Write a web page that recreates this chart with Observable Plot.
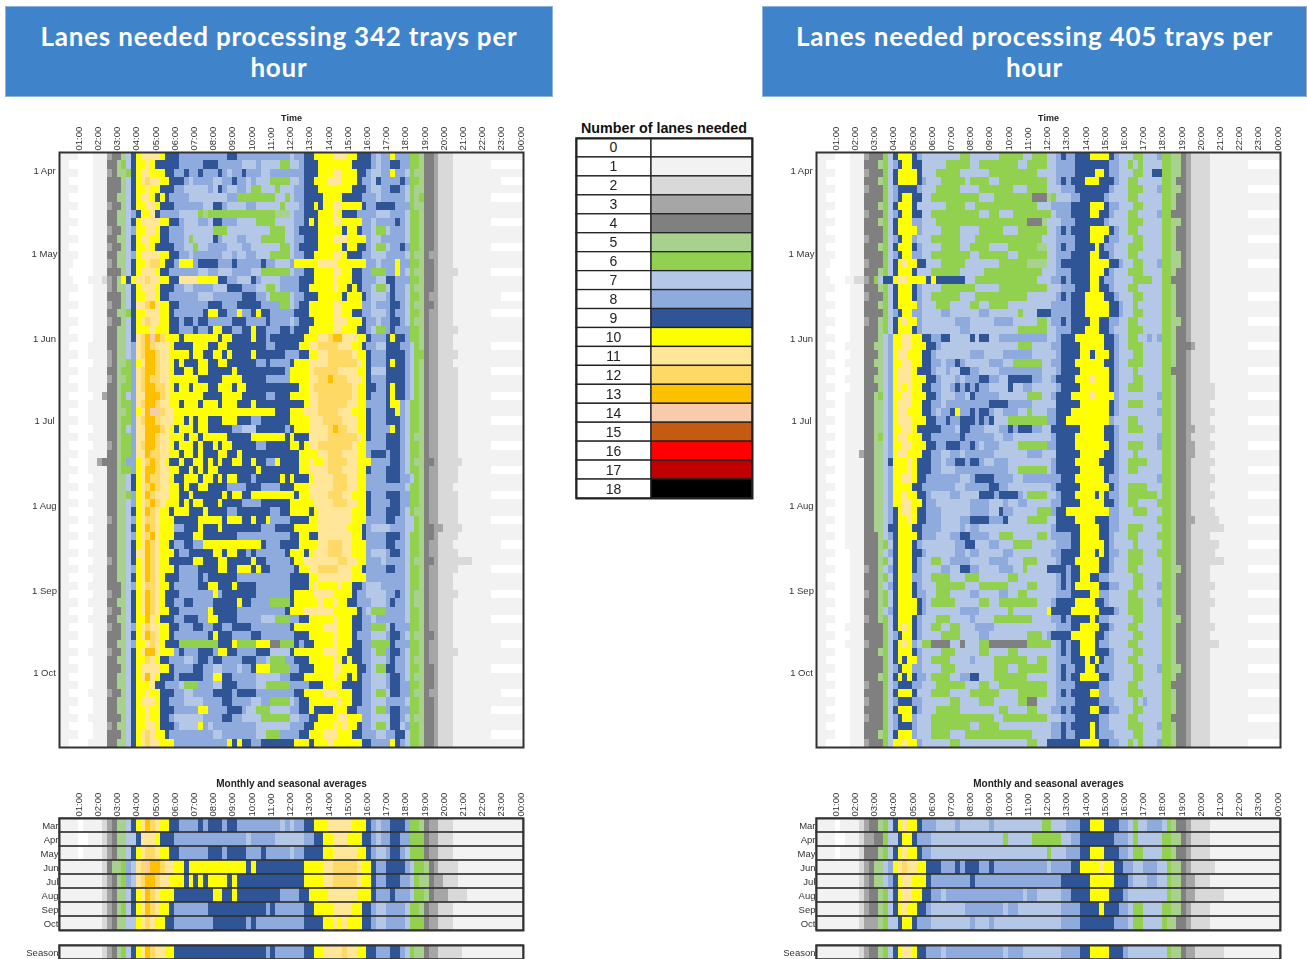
<!DOCTYPE html>
<html><head><meta charset="utf-8">
<script src="https://cdn.jsdelivr.net/npm/d3@7"></script>
<script src="https://cdn.jsdelivr.net/npm/@observablehq/plot@0.6"></script>
<style>
html,body{margin:0;padding:0;width:1307px;height:959px;overflow:hidden;background:#fff}
.pos{position:absolute}
.title{background:#3f83cb;border:1px solid #8fb4dc;box-sizing:border-box;color:#fff;font:bold 26px/31px Lato,sans-serif;letter-spacing:.8px;text-align:center;padding:14px 28px 0;height:91px;top:6px}
.legt{font:bold 14.3px "Liberation Sans",Arial,sans-serif;color:#111;text-align:center}
svg{display:block;overflow:visible;filter:blur(.35px)}
</style></head><body>
<div id="root"></div>
<script>
const lanes=d3.range(19);
const palette=["#ffffff","#f2f2f2","#d9d9d9","#a6a6a6","#808080","#a9d18e","#92d050","#b4c7e7","#8faadc","#2f5597","#ffff00","#ffe699","#ffd966","#ffc000","#f8cbad","#c55a11","#ff0000","#c00000","#000000"];
const months=["Mar","Apr","May","Jun","Jul","Aug","Sep","Oct"];
const monthsL=[
"1111 0111 1234 5579 abdc baa9 9888 8989 9989 9888 8888 8878 7889 9aaa bbbb baaa 9878 8999 8665 4332 2211 1111 1111 1111",
"1111 0011 1234 5577 9bbb a999 8888 8888 8888 8887 8888 8777 7778 899a abbb aaa9 9878 8998 8666 4332 2211 1111 1111 1111",
"1111 0111 1234 5579 abcc baa9 9888 8889 9989 9998 8898 8888 7889 999a abbb bbaa 9877 8998 7666 4332 2211 1111 1111 1111",
"1111 1111 1245 5687 bced dcbb aa9a aaaa aaaa aaa9 a999 9999 999a aaab bccc ccba a988 9999 8766 5432 2221 1111 1111 1111",
"1111 1111 1234 5687 bcdd cbba aa9a 9a9a aaa9 a999 9999 9999 999a aaab bccc ccba a988 9998 8765 5433 2221 1111 1111 1111",
"1111 1111 1234 5579 abdc baaa 9999 9999 aa99 a999 9999 9988 8899 aaaa bbbb bbaa a988 8988 8766 5433 3222 2111 1111 1111",
"1111 1111 1234 5679 abdc baa9 8888 8889 9999 9999 9998 9888 8889 9aaa abbb baa9 9877 8888 7665 4332 2211 1111 1111 1111",
"1111 1111 1234 5577 abcb aa99 8888 8888 9999 9998 9888 8888 8889 999a abab aaa9 9877 8888 7666 4332 2211 1111 1111 1111"];
const seasonL="1111 1111 1234 5679 abdc bbaa 9999 9999 9999 9999 9998 9888 8889 9aab bbbc bbaa 9988 8998 7655 4332 2222 1111 1111 1111";
const monthsR=[
"1111 0111 1234 4567 9aba a988 8777 7877 7777 8777 7777 7776 6777 8889 9aaa 9998 8767 7888 7654 4322 2211 1111 1111 1111",
"1111 0011 1233 4467 79aa 9888 7777 7777 7777 7776 7777 7666 6667 7889 9999 9988 8767 7777 6655 4322 2211 1111 1111 1111",
"1111 0111 1244 4567 9aba a988 7777 7777 7777 7777 7777 7777 6777 8889 9aaa 9998 8766 7777 6654 4322 2211 1111 1111 1111",
"1111 1111 1234 5578 abcb baa9 9988 8989 9988 9888 8888 8888 7888 899a aaab aa99 8877 8887 7655 4322 2221 1111 1111 1111",
"1111 1111 1234 5578 9abb aaa9 8888 8888 9888 8888 8888 8888 8889 9999 9aaa aa99 9877 7887 7655 4332 2211 1111 1111 1111",
"1111 1111 1234 4567 9abb aa99 8878 8888 8888 8888 8887 8877 7778 8999 9aaa a999 8777 7777 7655 4332 2222 2111 1111 1111",
"1111 1111 1234 4567 9aba a998 7777 7778 8888 8887 8877 7777 7778 8889 999a 9998 8766 7777 6655 4322 2211 1111 1111 1111",
"1111 1111 1233 3567 79aa 9888 7777 7777 8777 8777 7777 7777 7778 8889 9999 9988 8766 7777 6554 4322 2211 1111 1111 1111"];
const seasonR="1111 1111 1234 4567 9abb a998 8878 8888 8888 8887 8887 7777 7778 8889 9aaa a999 8777 7777 7655 4332 2222 2111 1111 1111";
const dailyL=[
"1111 0001 1134 4579 abbb ba99 9888 8888 8889 9888 8888 8888 7889 9aaa abbb aa99 9878 8a88 8665 4432 2211 1111 1111 1111",
"1100 0001 1144 5679 aaba 9999 9888 8899 9888 8877 7877 7766 7789 99aa aaaa a999 9878 8998 8665 4432 2211 1111 1100 0000",
"1111 0001 1134 5569 abba aa99 8898 8988 8987 8898 8877 8888 8889 99aa abba aa99 8778 8a88 7655 4432 2211 1111 1111 1111",
"1100 0001 1144 4579 abcb baa9 9987 8888 7788 9887 8777 6666 7789 9aaa bbba aa98 8798 8889 8665 4432 2211 1111 1111 0000",
"1111 0001 1144 4579 aaba a999 8877 7778 7987 7887 6677 7677 7889 99aa aaaa a999 8778 8998 7655 4432 2211 1111 1111 1111",
"1100 0001 1144 5579 abba 9a98 8887 7777 7778 8666 6666 6776 7889 999a aaa9 9998 8878 8888 7656 4432 2211 1111 1100 0000",
"1111 0001 1134 4579 aabb a999 8888 8877 9987 7778 8777 7767 7789 9a9a abba aaa9 8899 9988 8655 4432 2211 1111 1111 1111",
"1100 0001 1144 5578 9aab 9888 8777 7656 6666 6666 6666 6555 7889 99aa aba9 9988 8877 7888 7665 4432 2211 1111 1111 1111",
"1111 0001 1144 5579 abbb baa9 9877 7887 9988 8777 7666 6777 7889 a9aa abba aaa8 8788 8898 7665 4432 2211 1111 1100 0000",
"1100 0001 1134 4578 aabb a998 8877 7777 6667 7777 7777 6667 7899 99aa aaa9 aa98 8766 7888 7665 4432 2211 1111 1111 1111",
"1111 0001 1144 5579 abba a998 8876 7777 9877 7887 7766 6667 7889 99aa abbb aaaa 8778 8888 7665 4432 2211 1111 1111 1111",
"1100 0001 1134 4579 aaba 9999 8877 6778 8887 7788 7777 7766 7899 99aa aaa9 aa99 8766 7889 8665 4432 2211 1111 1100 0000",
"1111 0001 1144 5578 abbb baa9 9887 8888 8877 8778 8777 6666 7889 9aaa abba 9998 8777 8888 7655 4332 2211 1111 1111 1111",
"1110 0001 1134 5579 aabc ca99 8aaa 8999 9888 9888 8898 8777 8aaa aabb bbaa aaaa 8878 88a8 8665 4432 2211 1111 1111 1111",
"1100 0001 1144 4579 abbb a998 8888 8778 8777 8888 7766 6666 7889 9aaa abba a998 8666 88a8 7655 4432 2221 1111 1100 0000",
"1110 0011 1234 5a9a bbcb baa9 9bbb baaa a998 8777 9877 7788 8899 9aaa abaa a998 8877 9988 8665 4432 2211 1111 1111 1111",
"1111 0001 1134 5579 abbb a999 8877 8888 7779 9988 8776 6788 8899 aaaa abaa 9a98 8766 7988 7655 4432 2211 1111 1111 1111",
"1100 0001 1144 4579 aabb a998 8888 8777 8888 8899 9887 6666 7889 99aa aaa9 aaa9 8777 8988 7665 4332 2211 1111 1111 0000",
"1111 0001 1134 4579 bbcd baa9 9888 8889 9988 8999 9988 8866 7899 aaaa abba aaa8 8788 8998 7655 4432 2211 1111 1111 1111",
"1100 0001 1144 5569 aabb baa9 8888 889a a998 8a88 9a99 8888 8999 aaaa abba a998 8777 8988 7665 4332 2211 1111 1100 0000",
"1111 0001 1134 4579 abcb baa9 9899 8998 8888 9998 8889 8888 7899 9aaa abbb aaa9 8878 8998 7655 4332 2211 1111 1111 1111",
"1100 0001 1144 5579 aaab aaa9 9888 9889 aa99 8899 a998 8899 8999 aaaa abba aa99 8766 8988 8665 4332 2221 1111 1111 1111",
"1111 0001 1144 5579 bcde dcaa a9aa aaaa a9aa 9999 a998 9999 999a aabb cddb bbaa 9888 9a99 8665 4332 2211 1111 1111 1111",
"1100 0011 1144 5578 bcdc bbba 9999 aaa9 9aa9 9999 9998 8999 99aa bbcc ccbb baa9 8877 9998 8765 4332 2211 1111 1100 0000",
"1111 0011 1134 5578 bcdd cbba aaa9 aa99 aa9a 9999 a999 9998 8899 aabb cccc cbaa 9888 9999 8766 4332 2221 1111 1111 1111",
"1100 0001 1134 5568 abdd cbba 9a99 9aa9 9aa9 9999 9889 8888 9aaa bbbb cccc ccba 9888 9a99 8765 4332 2211 1111 1111 1111",
"1111 0011 1144 5668 bcdd cbba 99aa 9aa9 9999 a999 9999 9998 aaaa bccc ccbb bbaa 9777 9999 8765 4332 2221 1111 1100 0000",
"1100 0011 1134 5568 bcdc cbba aaaa a999 99aa aa99 9998 8888 aaaa bbcc dccc bbba 9888 9999 8765 4332 2221 1111 1111 1111",
"1111 0011 1144 5668 bcdd ccba 9aa9 aaa9 9aaa 9aa9 9999 9999 99aa bccc cccc cbaa 9988 9a99 8765 4332 2221 1111 1111 1111",
"1100 0001 1344 5678 bbdd dcba aaaa aa99 99aa aa99 9998 8999 aaaa bbcc cccc cbaa 9888 9a99 8765 4332 2221 1111 1100 0000",
"1111 0011 1144 5668 bcdd cbba a9aa a9aa a9aa a999 a999 9999 999a bbcc cccc bbaa 8888 9aa8 7665 4332 2221 1111 1111 1111",
"1100 0011 1144 5568 abde ecbb aaaa aaaa aaaa aaaa aaaa a999 aaab bbcc ccbb baaa 9888 99a8 7665 4332 2221 1111 1111 1111",
"1111 0011 1144 5668 bcdd cbbb aa9a 9aa9 99aa a999 8899 9999 aaaa bbbc cccb bbaa 9888 9998 7665 4332 2221 1111 1100 0000",
"1100 0001 1144 5678 bbdd dcba 9aaa 9aa9 9999 8877 7999 9998 9aaa bbbb cdcc bbaa 9888 8a98 7665 4332 2221 1111 1111 1111",
"1111 0011 1144 5668 bbdd cbba aa9a a9aa aaa9 9999 aaaa aaa9 a999 bbbb cccc ccba 9888 9998 7655 4332 2221 1111 1111 1111",
"1100 0001 1134 5668 bcdd cbba 9aaa 9a99 a9aa 9999 9889 9999 aa9a bbcc cccc cbaa 8888 9998 7665 4332 2221 1111 1100 0000",
"1111 0011 1144 5668 bbdc cbba a9aa 9a99 9aa9 9a99 9999 9999 99aa aabb cccb bbaa 8999 8998 7665 4332 2221 1111 1111 1111",
"1100 0011 3444 5688 abcd cba9 9a99 aa9a 9a99 aa99 a998 8a99 99aa baab cccc bbaa a888 8998 7655 4432 2222 1111 1111 1111",
"1111 0011 1144 5668 abdd cbba a99a 9a9a a999 9999 9a99 9999 99aa bbbb cccb bbaa 9888 9998 7665 4332 2221 1111 1100 0000",
"1100 0001 1144 5579 abdc cbba 99aa a9aa 9a9a a999 8999 99a9 a999 abbb bccc bbaa 8888 9998 8765 4332 2221 1111 1111 1111",
"1111 0011 1144 5579 abcd cbba a9a9 9aa9 9998 8889 9988 8899 9aaa bbbb bccc bbaa 8888 8888 7665 4332 2211 1111 1111 1111",
"1100 0001 1144 5568 abdc bbba a99a 9999 99a9 aa99 aaaa aaaa a9aa bbbb cccb baaa 9888 9998 8665 4332 2221 1111 1100 0000",
"1111 0011 1144 5578 abcd cbaa a9a9 aa99 9a99 9988 8899 9999 aaaa abbb bccc bbaa 9888 8998 8665 4332 2221 1111 1111 1111",
"1100 0001 1144 5579 abdc baa9 aaa9 99a9 9998 8999 9999 8899 aaaa 9abb bbbb baaa 9888 9998 7655 4332 2221 1111 1111 1111",
"1111 0011 1134 5578 abcc baaa 9999 9aaa aa9a aa99 a99a 8888 9999 aabb bbbb baaa 8888 9988 7765 4332 2221 1111 1100 0000",
"1100 0001 1144 5579 abdc baaa 8899 9a99 9a99 9999 9988 8999 9aaa aabb bbbb aaa9 8777 7888 7765 4433 2222 1111 1111 1111",
"1111 0011 1144 5578 abcd baaa 9999 aa99 9999 9888 8888 8888 99aa 99bb bbbb baa9 8888 9998 7665 4432 2221 1111 1111 1111",
"1100 0001 1144 5579 abdc baa9 8899 88aa aaaa aaaa aa98 8899 99aa aabb cccb baaa 8888 9988 7665 4332 2211 1111 1111 0000",
"1111 0011 1144 5579 bbdc baaa 9889 9999 aa9a a998 9888 8889 aaa9 abbb cccb baaa 8777 8998 7665 4332 2221 1111 1111 1111",
"1100 0001 1134 5579 abdc baa9 9999 aa99 9aa9 9999 a998 8888 9aab bbbb bbcc bbaa 8887 8888 7655 4432 2222 2211 1111 1111",
"1111 0011 1144 5578 abdc baaa 9888 8999 9aa9 9aaa 9a99 8888 89aa bbcc ccbb baa9 8888 9988 7665 4332 2221 1111 1100 0000",
"1100 0001 1144 5579 abdc ba99 9888 8989 9999 9888 8888 8888 9999 aabb bbbb baaa 8888 8888 7665 4332 2211 1111 1111 1111",
"1111 0011 1144 4578 abcc baa9 8888 899a a999 a999 9888 8888 9999 abaa aaba a998 7778 8888 7665 4332 2211 1111 1111 1111",
"1100 0001 1134 4579 abdc ba99 9888 8888 a899 9999 9888 8888 9aaa abbb baaa a988 7777 8898 7655 4332 2221 1111 1100 0000",
"1111 0011 1144 5579 abdc ba99 8899 8888 9999 9a99 8888 6666 9aaa aaba abaa 9988 8777 8988 7655 4332 2211 1111 1111 1111",
"1100 0001 1134 4579 abdc baa9 9888 888a 9999 9888 8888 8889 aaab bbbb baaa aa98 7666 8888 7665 4332 2211 1111 1111 1111",
"1111 0011 1144 5579 aadb a999 8899 988a a999 9888 8877 7666 8899 aaaa abaa a998 8788 8888 7665 4332 2211 1111 1100 0000",
"1100 0001 1134 4578 abcb baa9 9888 9988 9988 9999 8888 8888 9aaa aaab bbaa a998 8666 7988 8665 4332 2211 1111 1111 1111",
"1111 0001 1144 4579 abdc baa9 8888 8889 a999 8888 9988 8888 8999 aaaa abaa a988 8777 8998 7655 4432 2211 1111 1111 1111",
"1100 0001 1144 5578 aabc ba99 9666 6666 6999 a666 6aaa 4466 6989 9aaa abaa a998 8666 6988 8665 4332 2211 1111 1111 0000",
"1111 0011 1134 4579 abdd baaa 8988 8999 8aa9 9888 8999 7777 9aaa aaab bbaa 9998 8766 8998 7665 4332 2221 1111 1111 1111",
"1100 0001 1144 5579 aacb a998 8877 8998 9988 8899 9887 6668 8999 aaaa aba9 a998 8777 8988 7655 4332 2211 1111 1111 1111",
"1111 0001 1144 4579 abbb baa9 8888 9988 7788 8788 9aaa 6666 8899 9aaa abba aa99 8766 9988 7665 4432 2211 1111 1100 0000",
"1100 0001 1144 5579 abdb a999 8999 9988 aa99 8888 8777 7788 999a aaaa abaa 9a98 8777 8998 7655 4432 2211 1111 1111 1111",
"1111 0001 1144 5579 aaab 9988 8766 6888 7799 9888 8776 6666 8888 999a aaa9 9998 8777 8998 8665 4432 2211 1111 1111 1111",
"1100 0011 1134 4579 aaba a999 8877 8888 9999 8999 9888 8888 899a aaab bbaa a998 8766 7998 8655 4332 2211 1111 1111 0000",
"1111 0001 1144 5579 abbb a998 8877 7788 8899 8888 7788 6666 7899 aaaa aaba a998 8777 8888 7665 4432 2211 1111 1111 1111",
"1100 0001 1144 5579 aaba a999 8888 8aa8 8889 9987 7666 7777 8899 a999 9aaa 9988 8766 8998 8665 4432 2211 1111 1100 0000",
"1111 0011 1144 4579 aaba a998 7777 7788 8899 8877 7766 6666 7788 99aa aabb aaa8 8777 7998 7655 4432 2211 1111 1111 1111",
"1100 0001 1134 5579 aabb a999 8777 7a87 8888 8888 8777 7777 8889 9aaa abab aa98 8766 7997 8665 4432 2211 1111 1111 1111",
"1111 0001 1144 4579 abcb aa98 8888 8888 7788 8888 8776 6688 8899 aaab bbaa a998 8877 8899 7665 4432 2211 1111 1100 0000",
"1100 0011 1144 5579 abcb baaa 8888 8888 888a 9a99 8899 9999 9aaa 9aaa baaa aaa9 9888 8a98 7665 4432 2211 1111 1111 1111"];
const dailyR=[
"1111 0001 1134 4467 9aaa 9877 7777 7766 7777 7766 6667 7666 7789 8899 9aaa a987 7766 7778 6655 4322 2211 1111 1111 1111",
"1100 0001 1144 4567 89aa 9977 7776 6666 7766 6666 6677 6666 7788 8899 9999 9887 7676 7777 6655 4322 2211 1111 1100 0000",
"1111 0001 1134 4467 9aaa a977 7666 6677 7777 6666 6666 6677 7788 8899 99aa 9887 7766 7799 6655 4322 2211 1111 1111 1111",
"1100 0001 1144 4567 9aaa a987 7766 6667 6666 7766 6666 6666 7789 8999 aaa9 9987 7667 7777 6654 4322 2211 1111 1111 1111",
"1111 0001 1134 4467 8999 9877 7666 6677 7766 6666 6777 6666 7778 8899 9999 9877 7666 7778 6655 4322 2211 1111 1100 0000",
"1100 0001 1144 4467 89aa 9977 6666 6666 6677 7666 6666 6444 5677 7889 9999 8777 7667 7777 6654 4322 2211 1111 1111 1111",
"1111 0001 1144 4567 9aaa 9777 7776 6667 7666 6666 6666 6677 7888 8999 9aaa 9887 7766 7777 6654 4322 2211 1111 1111 1111",
"1100 0001 1134 4467 89aa 9977 6666 6666 6677 6677 7666 6666 6788 8999 9aa9 9877 7667 7778 6644 4322 2211 1111 1100 0000",
"1111 0001 1144 4567 9aaa 8877 7666 6666 6666 6666 6666 4445 7778 8899 9999 8777 7666 7777 6655 4322 2211 1111 1111 1111",
"1100 0001 1144 4467 9aaa a877 7766 6677 7766 6667 7766 6666 7789 8999 9aaa a987 7667 7777 6654 4322 2211 1111 1111 1111",
"1111 0001 1134 4467 89aa 8777 6666 6677 7666 6666 6666 6667 7788 8899 9aaa 9887 7766 7777 6654 4322 2211 1111 1100 0000",
"1100 0001 1144 4567 9aaa 9877 7766 6677 6666 7777 6666 6655 7789 8899 99a9 8877 7666 7777 6654 4322 2211 1111 1111 1111",
"1111 0001 1144 4467 89aa 8877 6666 6666 7766 6666 7766 6666 7788 8999 9aa9 9877 7667 7777 6655 4322 2211 1111 1111 1111",
"1110 0001 1134 4467 9aba a997 7766 6667 7777 7766 6666 5555 7789 9999 9aaa a998 7766 7778 6655 4322 2211 1111 1100 0000",
"1100 0001 1144 4567 9aaa 9777 6666 6677 7776 6666 6666 6667 7788 8999 9aaa 9877 7666 7777 6654 4322 2211 1111 1111 1111",
"1110 0011 2234 6799 abba aaa9 a999 9997 7666 6666 6666 6677 7889 8999 9aa9 8877 7766 6677 6644 4322 2211 1111 1111 1111",
"1111 0001 1144 4567 9aaa 9877 7766 6666 6777 7766 6666 6666 7778 8899 9aa9 9877 7667 7777 6654 4322 2211 1111 1111 1111",
"1100 0001 1134 4467 9aaa 9877 6666 6677 7666 6666 6666 7777 7789 8999 aaaa 9987 7766 7777 6654 4322 2211 1111 1100 0000",
"1111 0001 1144 4567 9aaa a877 7666 7777 6677 6666 7777 7777 7888 8999 aaaa a998 7767 7777 6654 4322 2211 1111 1111 1111",
"1100 0001 1144 4467 89aa 8877 7788 7777 7788 7777 7767 7799 9888 8999 aaaa a998 7766 7777 6654 4322 2211 1111 1111 1111",
"1111 0001 1134 4567 9aba a877 7777 7888 7777 7888 8777 7766 7889 8999 9aa9 9887 7667 7777 6655 4322 2211 1111 1100 0000",
"1100 0001 1144 4567 9aaa 9877 7777 7788 7777 7777 7766 6666 7788 8999 aaa9 9877 7666 7777 6654 4322 2211 1111 1111 1111",
"1111 0001 1144 4578 aabb aa99 8899 7777 9799 7788 8888 8888 7789 99aa aaaa 9987 7667 7878 6654 4322 2211 1111 1111 1111",
"1100 0011 1144 5578 aabb aaa9 9877 7777 7777 7777 7766 6777 7889 999a aaaa 9987 7666 7777 6654 4432 2211 1111 1100 0000",
"1111 0001 1144 4578 abba aa99 8777 7777 8887 7778 8888 8777 7789 999a a9aa a987 7766 7777 6654 4322 2211 1111 1111 1111",
"1100 0011 1144 5578 aabb aa99 8878 8987 7777 8887 7666 6667 7889 99aa aaaa 9987 7666 7777 6654 4322 2211 1111 1111 1111",
"1111 0001 1144 4578 abbb a999 8778 7799 8877 7788 8888 8887 7789 999a aaaa a987 7767 7777 6644 4322 2211 1111 1100 0000",
"1100 0011 1144 5578 abbb aaa9 9877 7878 8899 8877 9999 9887 7899 99aa abaa a987 7766 7777 6654 4322 2211 1111 1111 1111",
"1111 0001 1144 4578 abab aa99 8877 8989 8988 7777 9778 8777 7789 999a aaaa a987 7666 7777 6654 4322 2221 1111 1111 1111",
"1100 0011 1144 5678 aabb aaa9 9877 7887 9888 8877 7777 6667 7899 9aaa abaa aa87 7777 7778 6654 4322 2221 1111 1100 0000",
"1111 0011 1144 5578 abbb aa99 8878 8888 8888 9999 8888 8777 7799 999a aaaa a987 7666 7777 6654 4322 2211 1111 1111 1111",
"1100 0011 1144 5578 abba aa99 8788 9a88 9899 8778 8877 6777 8899 9aaa aaaa a987 7777 7778 6654 4322 2221 1111 1111 1111",
"1111 0011 1144 5578 abbb aaa9 9889 8899 9898 9777 6666 6666 8899 aaaa aaaa a877 7667 7777 6654 4322 2211 1111 1100 0000",
"1100 0011 1144 5578 aabb a999 9988 8799 8887 7788 9899 9887 7999 999a aaaa 9987 7666 7777 6654 4332 2221 1111 1111 1111",
"1111 0011 1144 5678 abba aa99 8888 8898 8888 8778 8777 7777 7899 99aa aaaa 9987 7777 7778 6654 4322 2211 1111 1111 1111",
"1100 0011 1144 5578 aabb aaa9 9889 9988 9878 8877 7766 6666 8899 99aa aaaa a987 7666 7778 6654 4332 2221 1111 1100 0000",
"1111 0011 1344 5578 abba aa99 8877 8878 8888 8777 7777 8887 7799 999a aaaa 9987 7767 7777 6654 4332 2211 1111 1111 1111",
"1100 0011 1144 5579 aaab a999 8878 8998 9987 7888 7777 7777 7899 99aa aaa9 9987 7666 6777 6654 4322 2221 1111 1111 1111",
"1111 0011 1144 5578 aaab a999 8877 7888 8888 8888 7766 6666 7899 999a aaaa 9987 7667 7777 6654 4322 2211 1111 1100 0000",
"1100 0011 1144 5578 aabb a998 8888 8877 8999 9888 8778 8888 8889 99aa aaaa 9887 7777 7778 6654 4322 2221 1111 1111 1111",
"1111 0011 1144 5578 aaaa 9988 8888 8778 8888 9988 7777 7777 7899 999a aaaa a987 7666 6777 6654 4322 2211 1111 1111 1111",
"1100 0011 1144 5578 aaba a998 7777 8877 7799 9899 9987 6666 7789 99aa aa9a 9887 7666 6667 6654 4322 2221 1111 1100 0000",
"1111 0011 1144 5578 aabb aa98 8777 7777 8888 7778 7788 7777 7889 999a aaaa 9987 7667 7776 6654 4322 2211 1111 1111 1111",
"1100 0011 1144 5578 9abb a998 8877 7777 8888 7798 8777 7766 6899 aaaa aaaa a887 7766 6777 6654 4322 2221 1111 1111 1111",
"1111 0011 1144 5578 9aab a998 8877 7788 9999 8889 7777 6666 7799 99aa aa99 9887 7777 7776 6654 4332 2222 1111 1100 0000",
"1100 0011 1144 5579 9aaa 9988 8877 7787 8877 7777 7777 7777 7899 999a aaa9 9887 7666 7777 6654 4322 2222 2111 1111 1111",
"1111 0011 1144 4578 9aaa a988 8777 8899 8888 7766 6777 7766 7888 899a aaa9 9877 7667 7776 6654 4322 2211 1111 1111 1111",
"1100 0011 1144 4567 9aaa 9877 7777 7889 9777 8877 7666 6777 7788 899a aaaa 9877 7767 7777 6654 4322 2222 1111 1100 0000",
"1111 0001 1144 4578 9aaa 9987 7777 7887 8877 7778 8777 7777 7889 999a aa9a 9887 7666 7776 6654 4322 2221 1111 1111 1111",
"1100 0001 1144 4567 9aaa 9877 6677 8888 7777 8888 7776 6677 7789 99aa aaa9 9877 7666 7777 6654 4322 2222 2111 1111 1111",
"1111 0001 1134 4578 9aaa 9877 7788 7799 8877 7788 8776 7777 9999 899a aaa9 9877 7667 7777 6655 4322 2211 1111 1100 0000",
"1100 0001 1144 4567 9aaa 8877 6666 7776 6677 7777 6677 7777 7789 899a a998 8777 7766 7777 6654 4322 2211 1111 1111 1111",
"1111 0001 1144 4578 9aaa 9877 7666 6667 7766 6666 7777 6677 7789 89aa aaa9 9887 7766 7778 6654 4322 2221 1111 1111 1111",
"1100 0001 1134 4567 9aaa 9887 7666 7777 8877 7788 7766 7777 7788 8999 9aa8 8777 7667 7777 6654 4322 2211 1111 1100 0000",
"1111 0001 1144 4567 9aaa a987 6666 6777 7766 7766 6666 6677 7899 99aa aa99 8777 7666 7778 6654 4322 2221 1111 1111 1111",
"1100 0001 1144 4578 9aaa a987 7777 7788 8877 7777 6777 7777 a999 9aaa aaa9 9987 7666 7777 6654 4322 2211 1111 1111 1111",
"1111 0001 1134 4567 9aaa 9877 7666 7777 8777 7666 6666 6777 7889 8999 9a98 8777 7766 7777 6655 4322 2211 1111 1100 0000",
"1100 0011 1144 4467 9aba 9877 6677 6677 7888 8777 7777 7777 7788 899a aaa9 9877 7667 7777 6654 4322 2221 1111 1111 1111",
"1111 0001 1144 4467 89aa 9877 7766 6677 7788 7777 7777 6667 8999 9aaa aa99 8777 7766 7777 6654 4322 2211 1111 1111 1111",
"1100 0011 1134 4467 9aba 8766 4444 7747 7766 4444 4444 6666 6789 899a aa98 8777 7667 7777 6654 4322 2222 1111 1100 0000",
"1111 0001 1144 4567 9aaa 9877 7766 6777 7766 7777 6677 7777 7789 899a aa99 9877 7766 7777 6654 4322 2211 1111 1111 1111",
"1100 0001 1144 4467 9a9a a877 6666 7777 8777 7666 6666 7766 7788 8999 a9a9 8877 7667 7777 6654 4322 2211 1111 1111 1111",
"1111 0001 1144 4467 89aa 8877 7766 6777 7777 7666 7766 6666 7789 8899 aa98 8877 7766 7778 6655 4322 2211 1111 1100 0000",
"1100 0001 1144 4567 9a9a 9887 6666 7788 9977 7666 6666 7777 7789 899a aaa9 9877 7766 7777 6654 4322 2211 1111 1111 1111",
"1111 0001 1134 4467 8999 8877 7666 6667 7766 7766 6666 6666 7788 8899 9998 8777 7667 7777 6644 4322 2211 1111 1111 1111",
"1100 0001 1144 4467 9aaa 9777 6666 7777 6666 6677 7766 6666 7789 8999 9aa8 8777 7666 7777 6654 4322 2211 1111 1100 0000",
"1111 0001 1134 4467 8999 8877 7777 6677 7766 6777 7766 4477 7788 8899 9998 8877 7767 8777 6654 4322 2211 1111 1111 1111",
"1100 0001 1144 4467 9aaa 9877 7666 6677 7777 7766 7777 6677 7889 8999 9aa9 9887 7766 7777 6654 4322 2211 1111 1111 1111",
"1111 0001 1134 4467 89aa 8777 6666 6666 6666 6776 6666 6666 7778 8899 9998 8777 7667 7777 6644 4322 2211 1111 1100 0000",
"1100 0001 1144 4467 8999 8777 6666 6666 7766 6677 7777 7777 7889 8999 9a98 8777 7666 7778 6654 4322 2211 1111 1111 1111",
"1111 0001 1144 4567 9aaa 8777 6666 7776 6666 6666 6666 6777 7889 8899 9a98 8877 7766 7777 6654 4322 2211 1111 1111 1111",
"1100 0001 1134 4467 aaba a877 7777 6677 7777 7777 7777 6677 9999 999a aaa9 9887 7676 7778 6654 4322 2211 1111 1100 0000"];

const hours=d3.range(1,25);
const hhmm=h=>String(h%24).padStart(2,"0")+":00";
const startDay=new Date(Date.UTC(2015,2,26)),endDay=new Date(Date.UTC(2015,9,29));
const monthFirsts=[3,4,5,6,7,8,9].map(m=>new Date(Date.UTC(2015,m,1,12)));
const colorScale={type:"ordinal",domain:lanes,range:palette};
const xScale={domain:[0,24.15],axis:null};
function cells(s){return s.replace(/ /g,"").split("").map((c,i)=>({slot:i,v:parseInt(c,19)}));}
const xEnd=d=>d.slot===95?24.15:(d.slot+1)/4;
function topAxis(t,fs){return [Plot.axisX(hours,{anchor:"top",tickSize:0,tickPadding:2,tickRotate:-90,tickFormat:hhmm,fontSize:9.5,fill:"#333",label:null}),
 Plot.text([t],{frameAnchor:"top",dy:-32,fontWeight:"bold",fontSize:fs,fill:"#222",lineAnchor:"bottom",fontFamily:"Liberation Sans"})];}
function mainPlot(rows){
 const n=rows.length,span=endDay-startDay;
 const data=rows.flatMap((r,i)=>cells(r).map(c=>({...c,d1:new Date(+startDay+span*i/n),d2:new Date(+startDay+span*(i+1)/n)})));
 return Plot.plot({width:530,height:641,marginLeft:59,marginRight:7,marginTop:44,marginBottom:2,style:{fontFamily:"Liberation Sans",background:"transparent"},
  x:xScale,y:{type:"utc",domain:[startDay,endDay],range:[44,639],axis:null},color:colorScale,
  marks:[Plot.rect(data,{x1:d=>d.slot/4,x2:xEnd,y1:"d1",y2:"d2",fill:"v",shapeRendering:"crispEdges"}),
   Plot.axisY(monthFirsts,{anchor:"left",tickSize:0,tickPadding:4,textAnchor:"middle",dx:-11,dy:1,tickFormat:d=>"1 "+d3.utcFormat("%b")(d),fontSize:9.5,fill:"#333",label:null}),
   ...topAxis("Time",9),Plot.frame({stroke:"#333",strokeWidth:2})]});
}
function avgPlot(names,rows,h,mt,title){
 const data=rows.flatMap((r,i)=>cells(r).map(c=>({...c,m:names[i]})));
 return Plot.plot({width:530,height:h,marginLeft:59,marginRight:7,marginTop:mt,marginBottom:2,style:{fontFamily:"Liberation Sans",background:"transparent"},
  x:xScale,y:{type:"band",domain:names,padding:0,axis:null},color:colorScale,
  marks:[Plot.barX(data,{x1:d=>d.slot/4,x2:xEnd,y:"m",fill:"v",shapeRendering:"crispEdges"}),
   Plot.barX(names,{x1:()=>0,x2:()=>24.15,y:d=>d,fill:"none",stroke:"#333",strokeWidth:1.2}),
   Plot.axisY(names,{anchor:"left",tickSize:0,tickPadding:1,fontSize:9.5,fill:"#333",label:null}),
   ...(title?topAxis(title,10):[]),Plot.frame({stroke:"#333",strokeWidth:2})]});
}
function legendPlot(){
 const lab=lanes.map(String);
 return Plot.plot({width:180,height:364,marginLeft:2,marginRight:2,marginTop:2,marginBottom:2,style:{background:"transparent"},
  x:{domain:[0,176],axis:null},y:{type:"band",domain:lab,padding:0,round:false,axis:null},color:colorScale,
  marks:[Plot.barX(lanes,{x1:()=>0,x2:()=>75,y:d=>String(d),fill:"#fff",stroke:"#222",strokeWidth:1.3}),
   Plot.barX(lanes,{x1:()=>75,x2:()=>176,y:d=>String(d),fill:d=>d,stroke:"#222",strokeWidth:1.3}),
   Plot.text(lanes,{x:()=>37,y:d=>String(d),text:d=>String(d),fontSize:14,fontFamily:"Liberation Sans",fill:"#222"}),
   Plot.frame({stroke:"#222",strokeWidth:2})]});
}
function place(el,x,y){const d=document.createElement("div");d.className="pos";d.style.left=x+"px";d.style.top=y+"px";d.appendChild(el);document.getElementById("root").appendChild(d);}
function box(cls,txt,x,y,w){const d=document.createElement("div");d.className="pos "+cls;d.style.left=x+"px";d.style.top=y+"px";d.style.width=w+"px";d.textContent=txt;document.getElementById("root").appendChild(d);}
box("title","Lanes needed processing 342 trays per hour",5,6,548);
box("title","Lanes needed processing 405 trays per hour",762,6,545);
box("legt","Number of lanes needed",564,120,200);
place(legendPlot(),574,135.5);
[[0,dailyL,monthsL,seasonL],[757,dailyR,monthsR,seasonR]].forEach(([dx,daily,mon,sea])=>{
 place(mainPlot(daily),dx,108);
 place(avgPlot(months,mon,162,48,"Monthly and seasonal averages"),dx,770);
 place(avgPlot(["Season"],[sea],21,5,null),dx,940);
});
</script></body></html>
